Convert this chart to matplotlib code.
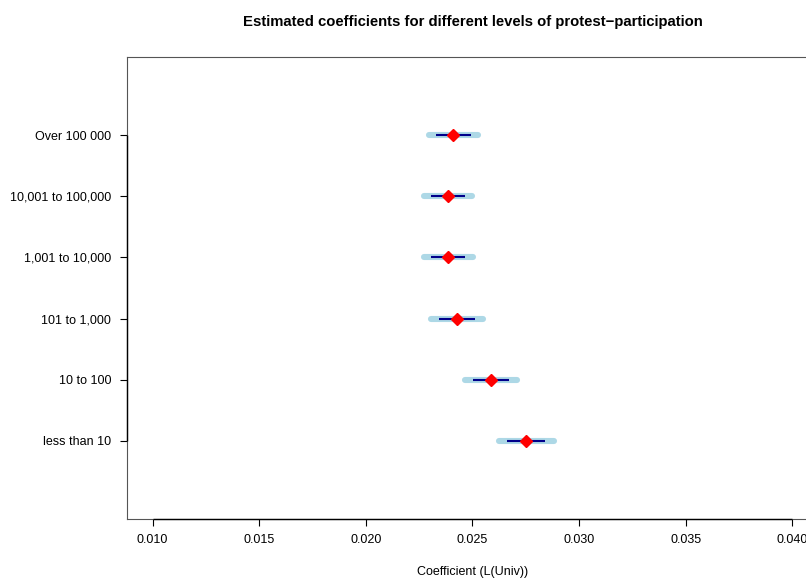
import matplotlib
matplotlib.use("Agg")
import matplotlib.pyplot as plt

plt.rcParams['font.family'] = ['Liberation Sans', 'DejaVu Sans']

# participation levels, bottom to top
levels = ["less than 10", "10 to 100", "101 to 1,000", "1,001 to 10,000",
          "10,001 to 100,000", "Over 100 000"]
coef = [0.02753, 0.02587, 0.02429, 0.02387, 0.02387, 0.02410]
# wide (light blue) interval
ci_lo = [0.02625, 0.02465, 0.02307, 0.02272, 0.02272, 0.02297]
ci_hi = [0.02881, 0.02710, 0.02550, 0.02502, 0.02500, 0.02526]
# narrow (dark blue) interval
se_lo = [0.02664, 0.02503, 0.02345, 0.02306, 0.02306, 0.02329]
se_hi = [0.02840, 0.02673, 0.02512, 0.02466, 0.02465, 0.02492]

xticks = [0.010, 0.015, 0.020, 0.025, 0.030, 0.035, 0.040]

W, H = 806, 581
fig = plt.figure(figsize=(W / 100, H / 100), dpi=100)
# axes box runs past the right edge, like the original
ax = fig.add_axes([127 / W, (H - 519) / H, (818 - 127) / W, (519 - 57) / H])

ypos = list(range(1, len(levels) + 1))
for i, y in enumerate(ypos):
    ax.plot([ci_lo[i], ci_hi[i]], [y, y], color='#ADD8E6', lw=4.4,
            solid_capstyle='round', zorder=2)
    ax.plot([se_lo[i], se_hi[i]], [y, y], color='#00008B', lw=1.5,
            solid_capstyle='butt', zorder=3)
ax.plot(coef, ypos, linestyle='none', marker='D', ms=6.2, color='red',
        mec='red', zorder=4)

ax.set_xlim(0.0088, 0.0412)
ax.set_ylim(-0.28, 7.28)

ax.set_xticks(xticks)
ax.set_xticklabels(['%.3f' % v for v in xticks])
ax.set_yticks(ypos)
ax.set_yticklabels(levels)
ax.tick_params(axis='both', direction='out', length=5, width=0.8,
               color='black', labelsize=9)
ax.tick_params(axis='y', pad=6.5)
ax.tick_params(axis='x', pad=6)

for s in ax.spines.values():
    s.set_color('#555555')
    s.set_linewidth(0.8)
# R style axis lines between first and last tick
ax.hlines(-0.28, xticks[0], xticks[-1], color='black', lw=1, clip_on=False, zorder=5)
ax.vlines(0.0088, ypos[0], ypos[-1], color='black', lw=1, clip_on=False, zorder=5)

fig.text(472.5 / W, 1 - 26 / H, "Estimated coefficients for different levels of protest\u2212participation",
         ha='center', va='baseline', fontsize=10.7, fontweight='bold')
fig.text(472.5 / W, 1 - 572 / H, "Coefficient (L(Univ))", ha='center', va='center', fontsize=9)

fig.savefig("out.png", dpi=100)
